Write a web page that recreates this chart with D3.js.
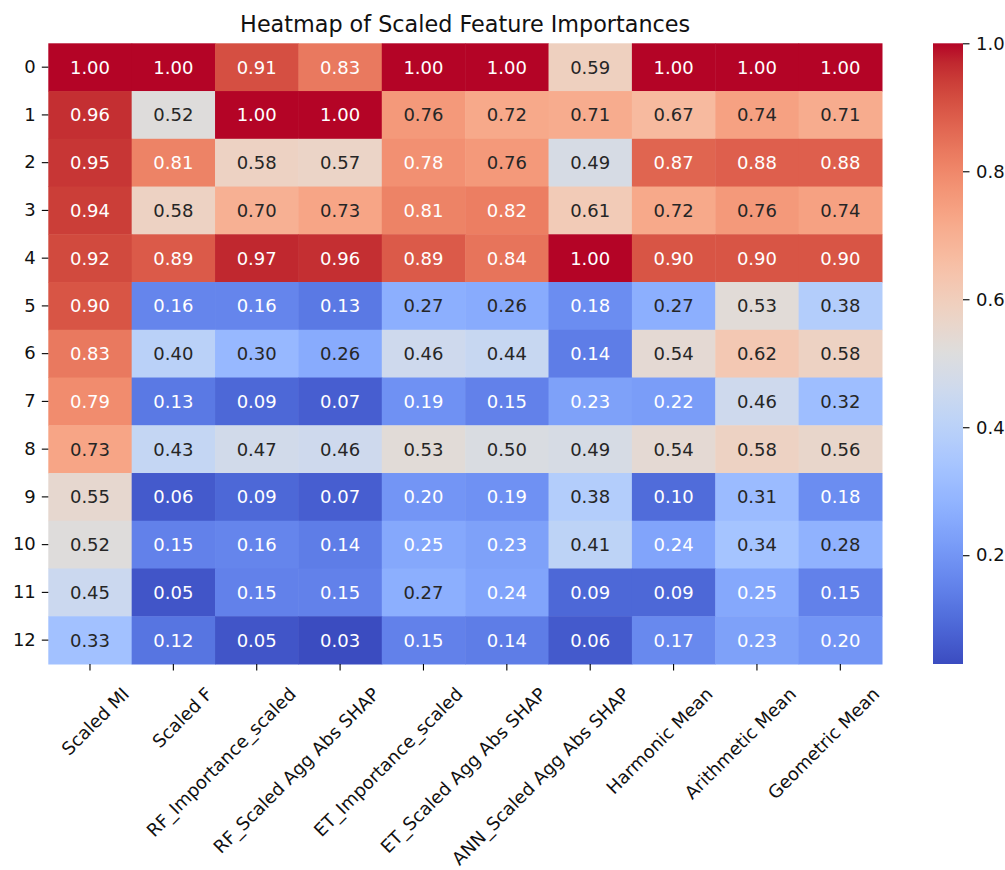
<!DOCTYPE html>
<html>
<head>
<meta charset="utf-8">
<script src="https://cdn.jsdelivr.net/npm/d3@7"></script>
<style>
  html, body { margin: 0; padding: 0; background: #ffffff; }
  svg { display: block; font-family: "DejaVu Sans", sans-serif; }
</style>
</head>
<body>
<svg id="chart" width="1005" height="870"></svg>
<script>
// Features (columns) and sample rows
const features = [
  "Scaled MI", "Scaled F", "RF_Importance_scaled", "RF_Scaled Agg Abs SHAP",
  "ET_Importance_scaled", "ET_Scaled Agg Abs SHAP", "ANN_Scaled Agg Abs SHAP",
  "Harmonic Mean", "Arithmetic Mean", "Geometric Mean"
];
const rowLabels = ["0", "1", "2", "3", "4", "5", "6", "7", "8", "9", "10", "11", "12"];

// One array of scaled importances per feature, ordered by row
const scaledMI     = [1.00, 0.96, 0.95, 0.94, 0.92, 0.90, 0.83, 0.79, 0.73, 0.55, 0.52, 0.45, 0.33];
const scaledF      = [1.00, 0.52, 0.81, 0.58, 0.89, 0.16, 0.40, 0.13, 0.43, 0.06, 0.15, 0.05, 0.12];
const rfImportance = [0.91, 1.00, 0.58, 0.70, 0.97, 0.16, 0.30, 0.09, 0.47, 0.09, 0.16, 0.15, 0.05];
const rfShap       = [0.83, 1.00, 0.57, 0.73, 0.96, 0.13, 0.26, 0.07, 0.46, 0.07, 0.14, 0.15, 0.03];
const etImportance = [1.00, 0.76, 0.78, 0.81, 0.89, 0.27, 0.46, 0.19, 0.53, 0.20, 0.25, 0.27, 0.15];
const etShap       = [1.00, 0.72, 0.76, 0.82, 0.84, 0.26, 0.44, 0.15, 0.50, 0.19, 0.23, 0.24, 0.14];
const annShap      = [0.59, 0.71, 0.49, 0.61, 1.00, 0.18, 0.14, 0.23, 0.49, 0.38, 0.41, 0.09, 0.06];
const harmonicMean = [1.00, 0.67, 0.87, 0.72, 0.90, 0.27, 0.54, 0.22, 0.54, 0.10, 0.24, 0.09, 0.17];
const arithMean    = [1.00, 0.74, 0.88, 0.76, 0.90, 0.53, 0.62, 0.46, 0.58, 0.31, 0.34, 0.25, 0.23];
const geoMean      = [1.00, 0.71, 0.88, 0.74, 0.90, 0.38, 0.58, 0.32, 0.56, 0.18, 0.28, 0.15, 0.20];

const colorbarTicks = [0.2, 0.4, 0.6, 0.8, 1.0];

const columns = [scaledMI, scaledF, rfImportance, rfShap, etImportance, etShap,
                 annShap, harmonicMean, arithMean, geoMean];

// Flatten into cells
const cells = [];
rowLabels.forEach((r, i) => {
  features.forEach((f, j) => {
    cells.push({ row: r, col: f, value: columns[j][i] });
  });
});

// Smooth cool-warm diverging colour table (blue -> grey -> red)
const coolwarm = [
  [59,76,192],[68,90,204],[77,104,215],[87,117,225],[98,130,234],[108,142,241],
  [119,154,247],[130,165,251],[141,176,254],[152,185,255],[163,194,255],[174,201,253],
  [184,208,249],[194,213,244],[204,217,238],[213,219,230],[221,221,221],[229,216,209],
  [236,211,197],[241,204,185],[245,196,173],[247,187,160],[247,177,148],[247,166,135],
  [244,154,123],[241,141,111],[236,127,99],[229,112,88],[222,96,77],[213,80,66],
  [203,62,56],[192,40,47],[180,4,38]
].map(c => d3.rgb(c[0], c[1], c[2]).formatHex());

const cmap = d3.scaleLinear()
  .domain(coolwarm.map((_, i) => i / (coolwarm.length - 1)))
  .range(coolwarm)
  .interpolate(d3.interpolateRgb)
  .clamp(true);

const [vmin, vmax] = d3.extent(cells, d => d.value);
const norm = d3.scaleLinear().domain([vmin, vmax]).range([0, 1]).clamp(true);
const color = v => cmap(norm(v));

// Annotation colour chosen from the cell's relative luminance
function luminance(hex) {
  const c = d3.rgb(hex);
  const lin = [c.r, c.g, c.b].map(v => {
    v /= 255;
    return v <= 0.03928 ? v / 12.92 : Math.pow((v + 0.055) / 1.055, 2.4);
  });
  return 0.2126 * lin[0] + 0.7152 * lin[1] + 0.0722 * lin[2];
}

const svg = d3.select("#chart");
const FONT = 18;

const plot = { left: 48.3, right: 882, top: 43.3, bottom: 664 };
const x = d3.scaleBand().domain(features).range([plot.left, plot.right]);
const y = d3.scaleBand().domain(rowLabels).range([plot.top, plot.bottom]);

// Heatmap cells
svg.append("g")
  .selectAll("rect")
  .data(cells)
  .join("rect")
  .attr("x", d => x(d.col))
  .attr("y", d => y(d.row))
  .attr("width", x.bandwidth() + 0.5)
  .attr("height", y.bandwidth() + 0.5)
  .attr("fill", d => color(d.value));

// Cell annotations
svg.append("g")
  .selectAll("text")
  .data(cells)
  .join("text")
  .attr("x", d => x(d.col) + x.bandwidth() / 2)
  .attr("y", d => y(d.row) + y.bandwidth() / 2)
  .attr("text-anchor", "middle")
  .attr("dy", "0.36em")
  .attr("font-size", FONT)
  .attr("fill", d => luminance(color(d.value)) > 0.408 ? "#262626" : "#ffffff")
  .text(d => d3.format(".2f")(d.value));

// Y axis (row index)
const yAxis = svg.append("g")
  .attr("transform", `translate(${plot.left},0)`)
  .call(d3.axisLeft(y).tickSize(6.5).tickPadding(6));
yAxis.select(".domain").remove();
yAxis.selectAll("line").attr("stroke", "#000").attr("stroke-width", 1.1);
yAxis.selectAll("text")
  .attr("font-family", "DejaVu Sans, sans-serif")
  .attr("font-size", FONT)
  .attr("fill", "#111");

// X axis (features), labels rotated 45 degrees
const xAxis = svg.append("g")
  .attr("transform", `translate(0,${plot.bottom})`)
  .call(d3.axisBottom(x).tickSize(6.5));
xAxis.select(".domain").remove();
xAxis.selectAll("line").attr("stroke", "#000").attr("stroke-width", 1.1);
xAxis.selectAll("text")
  .attr("font-family", "DejaVu Sans, sans-serif")
  .attr("font-size", FONT)
  .attr("fill", "#111")
  .attr("text-anchor", "end")
  .attr("x", 31)
  .attr("y", 22)
  .attr("dy", "0.73em")
  .attr("transform", "rotate(-45, 31, 22)");

// Title
svg.append("text")
  .attr("x", (plot.left + plot.right) / 2)
  .attr("y", 32.3)
  .attr("text-anchor", "middle")
  .attr("font-size", 22.3)
  .attr("fill", "#111")
  .text("Heatmap of Scaled Feature Importances");

// Colour bar
const cb = { x: 933, width: 30 };
const cbScale = d3.scaleLinear().domain([vmin, vmax]).range([plot.bottom, plot.top]);

const grad = svg.append("defs").append("linearGradient")
  .attr("id", "cbGrad")
  .attr("x1", 0).attr("y1", 1).attr("x2", 0).attr("y2", 0);
grad.selectAll("stop")
  .data(d3.range(0, 1.0001, 1 / 64))
  .join("stop")
  .attr("offset", d => d)
  .attr("stop-color", d => cmap(d));

svg.append("rect")
  .attr("x", cb.x)
  .attr("y", plot.top)
  .attr("width", cb.width)
  .attr("height", plot.bottom - plot.top)
  .attr("fill", "url(#cbGrad)");

const cbAxis = svg.append("g")
  .attr("transform", `translate(${cb.x + cb.width},0)`)
  .call(d3.axisRight(cbScale)
    .tickValues(colorbarTicks)
    .tickFormat(d3.format(".1f"))
    .tickSize(6.5)
    .tickPadding(6.5));
cbAxis.select(".domain").remove();
cbAxis.selectAll("line").attr("stroke", "#000").attr("stroke-width", 1.1);
cbAxis.selectAll("text")
  .attr("font-family", "DejaVu Sans, sans-serif")
  .attr("font-size", FONT)
  .attr("fill", "#111");
</script>
</body>
</html>
